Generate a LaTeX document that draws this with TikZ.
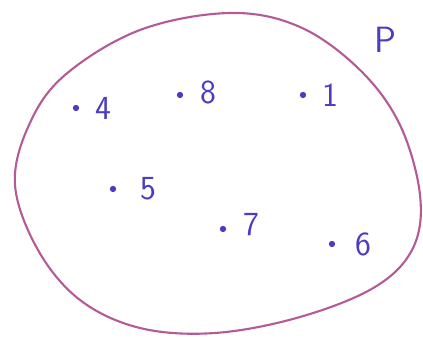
\documentclass[tikz,border=0pt]{standalone}
\usepackage{tikz}
\usepackage{xcolor}
\usetikzlibrary{positioning}
\definecolor{setline}{HTML}{B45A96}
\definecolor{ink}{HTML}{4B3CC3}

\begin{document}
\begin{tikzpicture}[x=0.025cm,y=-0.025cm,font=\sffamily\fontsize{24}{26}\selectfont]
  \tikzstyle{pt}=[circle,fill=ink,inner sep=0pt,minimum size=4.5pt]
  \tikzstyle{lbl}=[text=ink,inner sep=1pt]
  \useasboundingbox (0,0) rectangle (423,339);
  % the set P
  \draw[setline,line width=1.5pt] plot[smooth cycle,tension=0.6] coordinates {
    (230,13) (300,27) (360,70) (400,125) (420,195) (413,248) (375,287)
    (300,317) (215,333) (140,328) (80,300) (38,250) (15,185) (29,125)
    (65,75) (140,30)};
  \node[text=ink,font=\sffamily\fontsize{26}{28}\selectfont] (P) at (385,40) {P};
  % elements
  \node[pt] (e4) at (76,108) {};
  \node[lbl,right=10pt of e4] (l4) {4};
  \node[pt] (e8) at (180,95) {};
  \node[lbl,right=11pt of e8,yshift=2pt] (l8) {8};
  \node[pt] (e1) at (303,95) {};
  \node[lbl,right=10pt of e1] (l1) {1};
  \node[pt] (e5) at (113,189) {};
  \node[lbl,right=16pt of e5] (l5) {5};
  \node[pt] (e7) at (223,229) {};
  \node[lbl,right=11pt of e7,yshift=3pt] (l7) {7};
  \node[pt] (e6) at (332,244) {};
  \node[lbl,right=13pt of e6] (l6) {6};
\end{tikzpicture}
\end{document}
